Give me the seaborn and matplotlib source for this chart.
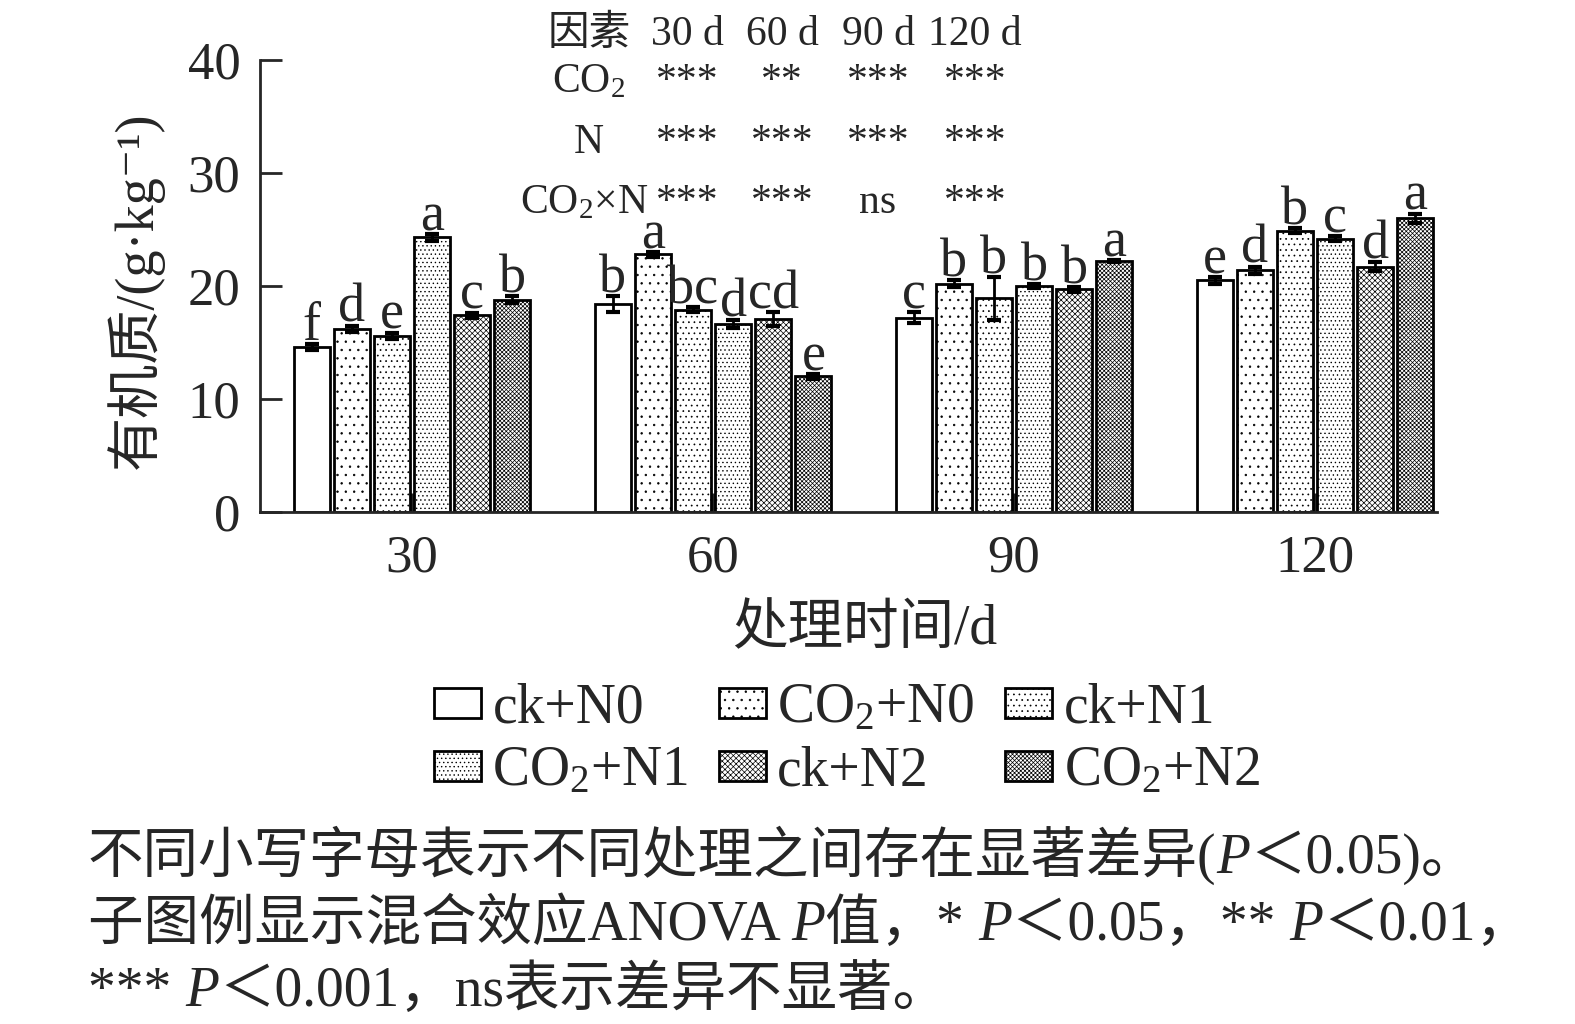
import numpy as np
import pandas as pd
import matplotlib
matplotlib.use('Agg')
import matplotlib.pyplot as plt
from matplotlib.patches import Patch
from matplotlib.text import Annotation
import seaborn as sns

# treatment means / sd (g/kg)
days = ['30', '60', '90', '120']
treatments = ['ck+N0', 'CO2+N0', 'ck+N1', 'CO2+N1', 'ck+N2', 'CO2+N2']
legend_labels = ['ck+N0', 'CO$_2$+N0', 'ck+N1', 'CO$_2$+N1', 'ck+N2', 'CO$_2$+N2']

ck_n0 = [14.6, 18.4, 17.2, 20.5]
co2_n0 = [16.2, 22.8, 20.2, 21.4]
ck_n1 = [15.6, 17.9, 18.9, 24.9]
co2_n1 = [24.3, 16.6, 20.0, 24.2]
ck_n2 = [17.4, 17.1, 19.7, 21.7]
co2_n2 = [18.8, 12.0, 22.2, 26.0]

sd_ck_n0 = [0.25, 0.7, 0.5, 0.3]
sd_co2_n0 = [0.3, 0.2, 0.3, 0.3]
sd_ck_n1 = [0.25, 0.2, 1.9, 0.2]
sd_co2_n1 = [0.3, 0.35, 0.15, 0.2]
sd_ck_n2 = [0.25, 0.6, 0.2, 0.4]
sd_co2_n2 = [0.3, 0.2, 0.1, 0.4]

letters_ck_n0 = ['f', 'b', 'c', 'e']
letters_co2_n0 = ['d', 'a', 'b', 'd']
letters_ck_n1 = ['e', 'bc', 'b', 'b']
letters_co2_n1 = ['a', 'd', 'b', 'c']
letters_ck_n2 = ['c', 'cd', 'b', 'd']
letters_co2_n2 = ['b', 'e', 'a', 'a']

# ANOVA table
anova_header = ['因素', '30 d', '60 d', '90 d', '120 d']
anova_factors = ['CO$_2$', 'N', 'CO$_2$×N']
anova_co2 = ['***', '**', '***', '***']
anova_n = ['***', '***', '***', '***']
anova_inter = ['***', '***', 'ns', '***']

means = [ck_n0, co2_n0, ck_n1, co2_n1, ck_n2, co2_n2]
sds = [sd_ck_n0, sd_co2_n0, sd_ck_n1, sd_co2_n1, sd_ck_n2, sd_co2_n2]
letters = [letters_ck_n0, letters_co2_n0, letters_ck_n1, letters_co2_n1, letters_ck_n2, letters_co2_n2]

df = pd.DataFrame([
    {'day': d, 'treatment': t, 'som': m[i]}
    for t, m in zip(treatments, means) for i, d in enumerate(days)
])

sns.set_style('ticks')
plt.rcParams['font.family'] = ['Liberation Serif', 'DejaVu Serif', 'Noto Sans CJK SC']
plt.rcParams['mathtext.fontset'] = 'custom'
plt.rcParams['mathtext.rm'] = 'Liberation Serif'
plt.rcParams['mathtext.it'] = 'Liberation Serif:italic'
plt.rcParams['hatch.linewidth'] = 0.5

W, H = 1575, 1024
fig = plt.figure(figsize=(W / 100, H / 100), dpi=100)
ax = fig.add_axes([260 / W, 1 - 512 / H, (1437 - 260) / W, (512 - 60) / H])

sns.barplot(data=df, x='day', y='som', hue='treatment', order=days, hue_order=treatments,
            palette=['white'] * 6, edgecolor='black', linewidth=2, width=0.8, gap=0.1,
            errorbar=None, legend=False, ax=ax)

hatches = ['', '..', '...', '....', 'xxxxxx', 'xxxxxxxx']
for cont, h, sd, lab in zip(ax.containers, hatches, sds, letters):
    xs, tops = [], []
    for bar in cont:
        bar.set_hatch(h)
        xs.append(bar.get_x() + bar.get_width() / 2)
        tops.append(bar.get_height())
    ax.errorbar(xs, tops, yerr=sd, fmt='none', ecolor='black', elinewidth=2,
                capsize=5, capthick=3, zorder=5)
    for x, t, s, l in zip(xs, tops, sd, lab):
        ax.text(x, t + s + 0.35, l, ha='center', va='baseline', fontsize=39)

ax.set_ylim(0, 40)
ax.set_yticks([0, 10, 20, 30, 40])
ax.set_xlim(-0.505, 3.405)
ax.set_xlabel('')
ax.set_ylabel('')
sns.despine(ax=ax)
for sp in ['left', 'bottom']:
    ax.spines[sp].set_linewidth(2)
ax.tick_params(axis='y', direction='in', length=16, width=2, pad=14, labelsize=38)
ax.tick_params(axis='x', direction='in', length=14, width=2.5, pad=16, labelsize=38)

fig.text(135 / W, 1 - 290 / H, '有机质/(g·kg⁻¹)', rotation=90, ha='center', va='center', fontsize=39)
fig.text(865 / W, 1 - 630 / H, '处理时间/d', ha='center', va='center', fontsize=40)

# legend, row-major order
handles = [Patch(facecolor='white', edgecolor='black', hatch=h, linewidth=2) for h in hatches]
order = [0, 3, 1, 4, 2, 5]
fig.legend([handles[i] for i in order], [legend_labels[i] for i in order], ncol=3,
           loc='center', bbox_to_anchor=(847 / W, 1 - 740 / H), frameon=False, fontsize=40,
           handlelength=0.85, handleheight=0.45, handletextpad=0.2, columnspacing=0.55,
           labelspacing=0.2, borderpad=0)

# ANOVA table on top
col_x = [589, 687, 782, 878, 975]
row_y = [45, 92, 153, 213]
tfs = 30
for x, s in zip(col_x, anova_header):
    fig.text(x / W, 1 - row_y[0] / H, s, ha='center', va='baseline', fontsize=tfs)
for r, (name, vals) in enumerate(zip(anova_factors, [anova_co2, anova_n, anova_inter])):
    y = 1 - row_y[r + 1] / H
    if r == 2:
        fig.text(648 / W, y, name, ha='right', va='baseline', fontsize=tfs)
    else:
        fig.text(col_x[0] / W, y, name, ha='center', va='baseline', fontsize=tfs)
    for x, v in zip(col_x[1:], vals):
        fig.text(x / W, y, v, ha='center', va='baseline', fontsize=tfs)

# caption, pieces chained so P can be italic
def write_line(x_px, y_px, parts, fs=40):
    prev = None
    for txt, italic in parts:
        kw = dict(fontsize=fs, va='baseline', ha='left')
        if italic:
            kw.update(family=['Liberation Serif'], style='italic')
        if prev is None:
            prev = fig.text(x_px / W, 1 - y_px / H, txt, **kw)
        else:
            a = Annotation(txt, xy=(1, 1 - y_px / H), xycoords=(prev, 'figure fraction'), **kw)
            fig.add_artist(a)
            prev = a

write_line(88, 873, [('不同小写字母表示不同处理之间存在显著差异(', False), ('P', True), ('＜0.05)。', False)])
write_line(88, 940, [('子图例显示混合效应ANOVA ', False), ('P', True), ('值，* ', False), ('P', True),
                     ('＜0.05，** ', False), ('P', True), ('＜0.01，', False)])
write_line(88, 1006, [('*** ', False), ('P', True), ('＜0.001，ns表示差异不显著。', False)])

fig.savefig('out.png', dpi=100)
